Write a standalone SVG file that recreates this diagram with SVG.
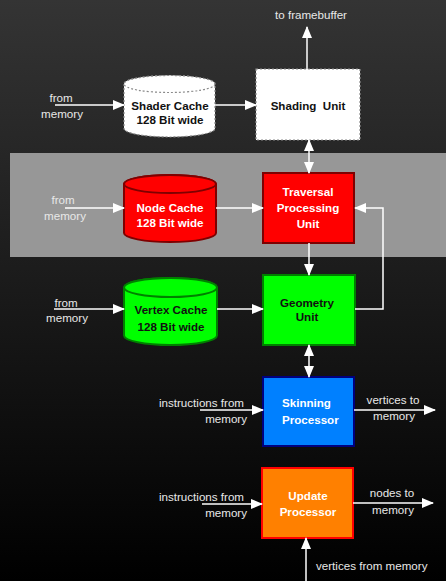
<svg xmlns="http://www.w3.org/2000/svg" width="446" height="581" viewBox="0 0 446 581">
<defs>
<linearGradient id="bg" x1="0" y1="0" x2="0" y2="1">
<stop offset="0" stop-color="#343434"/>
<stop offset="1" stop-color="#000000"/>
</linearGradient>
<marker id="ah" markerUnits="userSpaceOnUse" markerWidth="12" markerHeight="10" refX="11" refY="5" orient="auto-start-reverse">
<path d="M0,0 L12,5 L0,10 Z" fill="#ffffff"/>
</marker>
</defs>
<style>
.lbl{font-family:"Liberation Sans",Arial,sans-serif;font-size:11.6px;fill:#e8e8e8}
.bt{font-family:"Liberation Sans",Arial,sans-serif;font-size:11.6px;font-weight:bold}
.c{fill:none;stroke:#ffffff;stroke-width:1.5}
</style>
<rect x="0" y="0" width="446" height="581" fill="url(#bg)"/>
<rect x="10" y="153" width="436" height="104" fill="#979797"/>

<g id="shader-cache">
<path d="M124,84 L124,128.5 A45.5,8.5 0 0 0 215,128.5 L215,84 A45.5,8.5 0 0 0 124,84 Z" fill="#ffffff" stroke="#8a8a8a" stroke-width="1.2" stroke-dasharray="2,2"/>
<ellipse cx="169.5" cy="84" rx="45.5" ry="8.5" fill="#ffffff" stroke="#8a8a8a" stroke-width="1.2" stroke-dasharray="2,2"/>
<text class="bt" x="170" y="110" text-anchor="middle" fill="#111">Shader Cache</text>
<text class="bt" x="170" y="124" text-anchor="middle" fill="#111">128 Bit wide</text>
</g>

<g id="shading-unit">
<rect x="256" y="69" width="104" height="71" fill="#ffffff" stroke="#8a8a8a" stroke-width="1.2" stroke-dasharray="2,2"/>
<text class="bt" x="308" y="110" text-anchor="middle" fill="#111" xml:space="preserve">Shading  Unit</text>
</g>

<g id="node-cache">
<path d="M124,184 L124,233 A46,9 0 0 0 216,233 L216,184 A46,9 0 0 0 124,184 Z" fill="#ff0000" stroke="#7f0000" stroke-width="2"/>
<ellipse cx="170" cy="184" rx="46" ry="9" fill="#ff0000" stroke="#7f0000" stroke-width="2"/>
<text class="bt" x="170" y="212" text-anchor="middle" fill="#ffffff">Node Cache</text>
<text class="bt" x="170" y="227" text-anchor="middle" fill="#ffffff">128 Bit wide</text>
</g>

<g id="traversal-unit">
<rect x="263" y="173" width="91" height="70" fill="#ff0000" stroke="#7f0000" stroke-width="2"/>
<text class="bt" x="308" y="196" text-anchor="middle" fill="#ffffff">Traversal</text>
<text class="bt" x="308" y="212" text-anchor="middle" fill="#ffffff">Processing</text>
<text class="bt" x="308" y="228" text-anchor="middle" fill="#ffffff">Unit</text>
</g>

<g id="vertex-cache">
<path d="M124,287.5 L124,335.5 A46.5,9.5 0 0 0 217,335.5 L217,287.5 A46.5,9.5 0 0 0 124,287.5 Z" fill="#00ff00" stroke="#008000" stroke-width="2"/>
<ellipse cx="170.5" cy="287.5" rx="46.5" ry="9.5" fill="#00ff00" stroke="#008000" stroke-width="2"/>
<text class="bt" x="171" y="314" text-anchor="middle" fill="#111">Vertex Cache</text>
<text class="bt" x="171" y="331" text-anchor="middle" fill="#111">128 Bit wide</text>
</g>

<g id="geometry-unit">
<rect x="263" y="275" width="92" height="70" fill="#00ff00" stroke="#008000" stroke-width="2"/>
<text class="bt" x="307" y="307" text-anchor="middle" fill="#111">Geometry</text>
<text class="bt" x="307" y="321" text-anchor="middle" fill="#111">Unit</text>
</g>

<g id="skinning-processor">
<rect x="263" y="377" width="91" height="69" fill="#0080ff" stroke="#00007f" stroke-width="2"/>
<text class="bt" x="282" y="407" fill="#ffffff">Skinning</text>
<text class="bt" x="282" y="424" fill="#ffffff">Processor</text>
</g>

<g id="update-processor">
<rect x="262" y="468" width="91" height="70" fill="#ff8000" stroke="#ff0000" stroke-width="2"/>
<text class="bt" x="308" y="500" text-anchor="middle" fill="#ffffff">Update</text>
<text class="bt" x="308" y="516" text-anchor="middle" fill="#ffffff">Processor</text>
</g>

<g id="labels">
<text class="lbl" x="311" y="19" text-anchor="middle">to framebuffer</text>
<text class="lbl" x="61" y="102" text-anchor="middle">from</text>
<text class="lbl" x="62" y="118" text-anchor="middle">memory</text>
<text class="lbl" x="63" y="204" text-anchor="middle">from</text>
<text class="lbl" x="65" y="220" text-anchor="middle">memory</text>
<text class="lbl" x="66" y="307" text-anchor="middle">from</text>
<text class="lbl" x="67" y="322" text-anchor="middle">memory</text>
<text class="lbl" x="244" y="407" text-anchor="end">instructions from</text>
<text class="lbl" x="247" y="423" text-anchor="end">memory</text>
<text class="lbl" x="393" y="404" text-anchor="middle">vertices to</text>
<text class="lbl" x="394" y="420" text-anchor="middle">memory</text>
<text class="lbl" x="244" y="501" text-anchor="end">instructions from</text>
<text class="lbl" x="247" y="517" text-anchor="end">memory</text>
<text class="lbl" x="392" y="497" text-anchor="middle">nodes to</text>
<text class="lbl" x="393" y="514" text-anchor="middle">memory</text>
<text class="lbl" x="316" y="570">vertices from memory</text>
</g>

<g id="connectors">
<line class="c" x1="307" y1="69" x2="307" y2="27" marker-end="url(#ah)"/>
<line class="c" x1="55" y1="105" x2="124" y2="105" marker-end="url(#ah)"/>
<line class="c" x1="215" y1="105" x2="256" y2="105" marker-end="url(#ah)"/>
<line class="c" x1="309" y1="140" x2="309" y2="173" marker-start="url(#ah)" marker-end="url(#ah)"/>
<line class="c" x1="65" y1="208" x2="124" y2="208" marker-end="url(#ah)"/>
<line class="c" x1="216" y1="208" x2="263" y2="208" marker-end="url(#ah)"/>
<polyline class="c" points="355,309 383,309 383,208 355,208" marker-end="url(#ah)"/>
<line class="c" x1="309" y1="243" x2="309" y2="275" marker-end="url(#ah)"/>
<line class="c" x1="54" y1="309" x2="124" y2="309" marker-end="url(#ah)"/>
<line class="c" x1="217" y1="309" x2="263" y2="309" marker-end="url(#ah)"/>
<line class="c" x1="309" y1="345" x2="309" y2="377" marker-start="url(#ah)" marker-end="url(#ah)"/>
<line class="c" x1="200" y1="410" x2="263" y2="410" marker-end="url(#ah)"/>
<line class="c" x1="354" y1="410" x2="435" y2="410" marker-end="url(#ah)"/>
<line class="c" x1="202" y1="504" x2="262" y2="504" marker-end="url(#ah)"/>
<line class="c" x1="353" y1="503" x2="433" y2="503" marker-end="url(#ah)"/>
<line class="c" x1="306" y1="581" x2="306" y2="538" marker-end="url(#ah)"/>
</g>
</svg>
